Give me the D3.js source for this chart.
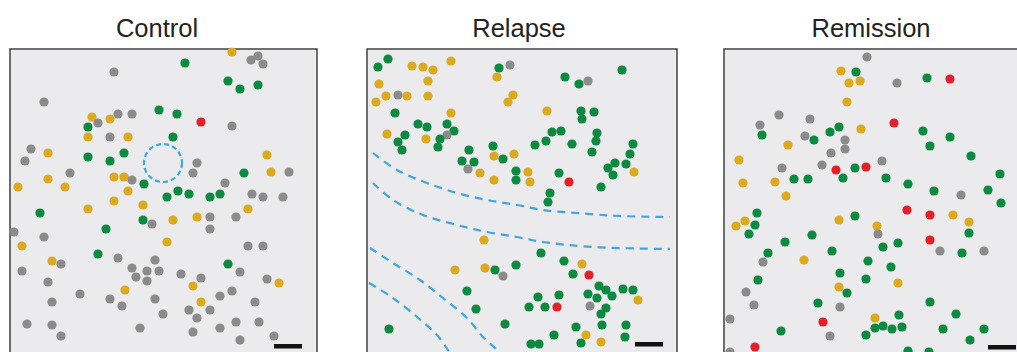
<!DOCTYPE html>
<html><head><meta charset="utf-8">
<script src="https://cdn.jsdelivr.net/npm/d3@7"></script>
<style>html,body{margin:0;padding:0;background:#fff;overflow:hidden}</style>
</head><body>
<svg id="chart" width="1017" height="352"></svg>
<script>
// Panel titles
const panelTitles = ["Control", "Relapse", "Remission"];
// Cell types: g = green, y = yellow, n = grey, r = red
const controlDots = [
[222,3,"y"],[241,11,"n"],[248,7,"n"],[253,15,"n"],[175,14,"g"],[104,23,"n"],[218,32,"g"],[230,40,"g"],[248,36,"g"],
[34,53,"n"],[82,68,"y"],[78,78,"g"],[88,74,"n"],[100,70,"y"],[108,65,"n"],[122,65,"n"],[149,61,"g"],[167,65,"g"],
[191,73,"r"],[222,77,"n"],[78,88,"y"],[100,88,"n"],[118,88,"y"],[163,88,"g"],[21,100,"n"],[15,112,"n"],[38,104,"y"],
[78,108,"g"],[100,112,"g"],[114,104,"g"],[187,114,"n"],[183,124,"n"],[257,106,"y"],[234,124,"g"],[261,123,"y"],
[279,123,"n"],[60,124,"n"],[38,130,"y"],[8,138,"y"],[55,138,"y"],[104,128,"y"],[114,128,"y"],[122,131,"n"],
[134,135,"g"],[118,142,"y"],[215,134,"n"],[157,148,"g"],[168,142,"g"],[179,145,"g"],[200,148,"g"],[210,145,"g"],
[242,145,"n"],[253,148,"n"],[273,148,"n"],[104,152,"y"],[133,156,"y"],[78,160,"y"],[238,160,"y"],[30,164,"g"],
[200,168,"n"],[226,168,"n"],[187,168,"y"],[163,171,"y"],[133,171,"g"],[142,175,"n"],[96,180,"g"],[200,180,"n"],
[4,183,"n"],[34,188,"n"],[157,193,"y"],[12,197,"y"],[238,197,"n"],[253,197,"n"],[88,205,"g"],[108,209,"n"],
[145,211,"n"],[42,212,"y"],[51,215,"n"],[218,215,"g"],[12,222,"n"],[122,219,"n"],[137,222,"n"],[149,222,"n"],
[230,223,"n"],[171,225,"n"],[126,228,"n"],[137,232,"n"],[191,229,"n"],[257,230,"n"],[269,234,"y"],[38,233,"n"],
[183,237,"y"],[115,241,"y"],[222,242,"n"],[70,245,"n"],[210,247,"n"],[100,250,"n"],[145,250,"n"],[42,253,"n"],
[191,253,"y"],[245,253,"n"],[112,257,"n"],[179,261,"n"],[200,261,"n"],[153,265,"n"],[187,269,"n"],[226,273,"n"],
[249,273,"n"],[17,275,"n"],[42,276,"n"],[130,279,"n"],[210,279,"n"],[183,283,"n"],[51,287,"n"],[264,287,"n"],[230,291,"n"]
];
const relapseDots = [
[11,18,"g"],[21,10,"g"],[45,17,"y"],[56,18,"y"],[66,21,"y"],[84,12,"y"],[132,19,"g"],[143,16,"n"],[130,28,"y"],
[255,21,"g"],[198,28,"g"],[212,35,"g"],[221,32,"n"],[12,35,"y"],[61,32,"y"],[31,46,"n"],[19,47,"y"],[40,47,"y"],
[61,47,"y"],[9,53,"y"],[146,46,"y"],[141,53,"y"],[28,64,"g"],[84,64,"y"],[180,62,"y"],[214,62,"g"],[227,63,"g"],
[215,70,"g"],[51,75,"g"],[60,78,"g"],[80,75,"g"],[87,82,"g"],[80,86,"n"],[73,90,"g"],[71,98,"g"],[20,85,"y"],
[38,86,"g"],[31,93,"g"],[35,101,"g"],[59,90,"y"],[185,83,"g"],[194,82,"g"],[230,84,"g"],[229,92,"g"],[179,92,"g"],
[168,96,"g"],[205,95,"g"],[126,97,"g"],[102,101,"g"],[266,95,"g"],[225,103,"g"],[127,107,"y"],[136,110,"g"],
[147,105,"y"],[263,105,"g"],[95,112,"g"],[107,113,"g"],[101,120,"n"],[113,124,"y"],[149,122,"g"],[149,131,"g"],
[161,123,"y"],[163,133,"y"],[127,131,"y"],[192,124,"g"],[202,133,"r"],[259,115,"g"],[248,114,"g"],[241,119,"g"],
[246,126,"g"],[267,123,"y"],[234,138,"g"],[183,144,"g"],[181,153,"g"],[117,191,"y"],[174,204,"g"],[197,212,"g"],
[215,215,"y"],[149,216,"g"],[88,221,"y"],[118,219,"y"],[128,221,"g"],[136,227,"n"],[206,225,"g"],[222,226,"r"],
[232,237,"g"],[239,241,"g"],[256,240,"g"],[266,241,"g"],[100,242,"g"],[221,245,"g"],[245,247,"g"],[230,249,"g"],
[271,251,"y"],[171,248,"g"],[192,246,"g"],[162,258,"g"],[178,258,"g"],[190,258,"r"],[223,257,"n"],[239,259,"g"],
[109,260,"g"],[234,265,"g"],[138,275,"g"],[235,276,"g"],[259,276,"g"],[209,278,"g"],[22,280,"g"],[219,286,"y"],
[187,286,"g"],[258,288,"g"],[164,295,"g"],[172,295,"g"],[214,294,"g"],[234,293,"y"]
];
const remissionDots = [
[143,8,"n"],[117,22,"y"],[132,23,"g"],[125,34,"y"],[136,32,"y"],[173,34,"n"],[203,29,"g"],[226,30,"r"],[123,53,"y"],
[55,66,"n"],[86,70,"n"],[36,76,"n"],[38,86,"g"],[106,83,"g"],[115,78,"g"],[137,80,"y"],[170,74,"r"],[81,87,"n"],
[90,91,"g"],[121,91,"n"],[121,100,"n"],[199,82,"g"],[226,88,"g"],[206,97,"g"],[64,96,"y"],[107,104,"n"],[247,107,"g"],
[15,111,"y"],[158,112,"n"],[98,116,"n"],[58,119,"n"],[112,121,"r"],[131,119,"g"],[142,118,"r"],[119,129,"g"],
[162,129,"g"],[276,125,"g"],[19,134,"y"],[51,133,"y"],[70,130,"g"],[84,130,"g"],[184,135,"g"],[210,142,"g"],
[237,146,"n"],[264,141,"g"],[62,147,"y"],[277,154,"g"],[183,161,"r"],[206,166,"r"],[229,166,"y"],[245,173,"y"],
[33,164,"g"],[21,172,"y"],[12,177,"y"],[31,176,"g"],[25,185,"g"],[115,171,"y"],[131,167,"g"],[153,177,"y"],
[154,185,"n"],[245,184,"g"],[88,186,"g"],[206,191,"r"],[61,193,"g"],[174,194,"g"],[159,198,"g"],[216,202,"n"],
[238,204,"g"],[260,202,"n"],[44,204,"g"],[108,202,"g"],[80,211,"y"],[39,213,"n"],[144,212,"g"],[167,218,"g"],
[116,224,"g"],[142,230,"g"],[34,231,"g"],[174,234,"y"],[115,238,"y"],[123,244,"g"],[22,243,"n"],[94,254,"g"],
[206,253,"g"],[30,256,"n"],[116,258,"n"],[232,265,"g"],[151,269,"y"],[175,266,"g"],[6,270,"n"],[99,273,"r"],
[151,279,"g"],[159,277,"g"],[168,280,"g"],[178,278,"g"],[142,286,"g"],[57,282,"g"],[219,280,"g"],[260,280,"g"],
[106,287,"n"],[246,291,"g"],[31,298,"r"],[6,303,"n"],[184,302,"g"],[205,303,"g"]
];
// Dashed boundaries (Relapse) and niche circle (Control)
const relapseCurves = [
[[6,104],[30,121],[60,134],[90,144],[120,151],[150,156],[176,161],[210,164],[253,167],[303,168]],
[[6,134],[26,151],[56,166],[90,176],[120,183],[150,188],[176,193],[226,198],[303,200]],
[[3,199],[26,214],[53,231],[76,249],[100,269],[116,288],[130,301],[136,309]],
[[2,234],[26,249],[50,268],[70,286],[81,301],[86,309]]
];
const controlCircle = [[153,114,19]];

const colors = {g:"#0b8a40", y:"#dcaa1f", n:"#8b8b8b", r:"#e61e28"};
const svg = d3.select("#chart");
const panels = [
  {title: panelTitles[0], left: 10, w: 307, titleX: 157, dots: controlDots, bar: [264, 295]},
  {title: panelTitles[1], left: 367, w: 310, titleX: 519, dots: relapseDots, bar: [268, 293]},
  {title: panelTitles[2], left: 724, w: 310, titleX: 871, dots: remissionDots, bar: [264, 296]}
];
const frameTop = 49;
panels.forEach((p, i) => {
  const x = d3.scaleLinear().domain([0, 308]).range([p.left, p.left + 308]);
  const y = d3.scaleLinear().domain([0, 308]).range([frameTop, frameTop + 308]);
  const g = svg.append("g");
  g.append("text").attr("x", p.titleX).attr("y", 37).attr("text-anchor", "middle")
    .attr("font-family", "Liberation Sans, Arial, sans-serif").attr("font-size", 25.5).attr("fill", "#222")
    .text(p.title);
  g.append("rect").attr("x", p.left).attr("y", frameTop).attr("width", p.w).attr("height", 330)
    .attr("fill", "#ebebed").attr("stroke", "#4d4d4d").attr("stroke-width", 1.6);
  if (i === 0) {
    g.selectAll("circle.niche").data(controlCircle).join("circle").attr("class","niche")
      .attr("cx", d => x(d[0])).attr("cy", d => y(d[1])).attr("r", d => d[2])
      .attr("fill", "none").attr("stroke", "#3ea8dc").attr("stroke-width", 2.2).attr("stroke-dasharray", "5,3.2");
  }
  if (i === 1) {
    const line = d3.line().x(d => x(d[0])).y(d => y(d[1])).curve(d3.curveCatmullRom);
    g.selectAll("path.bd").data(relapseCurves).join("path").attr("class","bd")
      .attr("d", line).attr("fill", "none").attr("stroke", "#3ea8dc").attr("stroke-width", 2.2)
      .attr("stroke-dasharray", "8,6");
  }
  g.selectAll("circle.dot").data(p.dots).join("circle").attr("class","dot")
    .attr("cx", d => x(d[0])).attr("cy", d => y(d[1])).attr("r", 4.6)
    .attr("fill", d => colors[d[2]]);
  g.append("rect").attr("x", x(p.bar[0])).attr("y", y(p.bar[1])).attr("width", 28).attr("height", 4.5)
    .attr("fill", "#111");
});
</script>
</body></html>
